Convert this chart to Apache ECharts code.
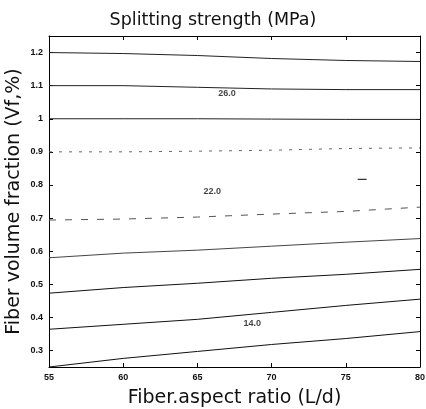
<!DOCTYPE html>
<html>
<head>
<meta charset="utf-8">
<script src="https://cdn.jsdelivr.net/npm/echarts@6/dist/echarts.min.js"></script>
<style>
html,body{margin:0;padding:0;background:#fff;}
#chart{width:426px;height:409px;}
</style>
</head>
<body>
<div id="chart"></div>
<script>
// Fiber aspect ratio (x) sample positions
const aspectRatio = [55, 60, 65, 70, 75, 80];
// Contour lines: fiber volume fraction at each aspect ratio
const contour1 = [0.250, 0.276, 0.297, 0.318, 0.336, 0.357];
const contour2 = [0.364, 0.379, 0.394, 0.415, 0.436, 0.455];
const contour3 = [0.473, 0.490, 0.503, 0.518, 0.530, 0.545];
const contour4 = [0.580, 0.594, 0.603, 0.615, 0.627, 0.638];
const contour5 = [0.694, 0.697, 0.703, 0.712, 0.720, 0.733];
const contour6 = [0.900, 0.900, 0.902, 0.905, 0.910, 0.912];
const contour7 = [1.000, 1.000, 1.000, 0.999, 0.998, 0.998];
const contour8 = [1.100, 1.100, 1.095, 1.090, 1.088, 1.088];
const contour9 = [1.200, 1.197, 1.191, 1.182, 1.176, 1.173];
// small fragment
const fragmentX = [75.8, 76.4];
const fragmentY = [0.817, 0.817];
// Contour labels
const labelX = [67.0, 66.0, 68.7];
const labelY = [1.076, 0.779, 0.382];
const labelText = ['26.0', '22.0', '14.0'];
// Tick labels
const yTicks = [0.3, 0.4, 0.5, 0.6, 0.7, 0.8, 0.9, 1.0, 1.1, 1.2];

const contours = [contour1, contour2, contour3, contour4, contour5, contour6, contour7, contour8, contour9];
const styles = [
  {color:'#111', type:'solid'},
  {color:'#111', type:'solid'},
  {color:'#111', type:'solid'},
  {color:'#444', type:'solid'},
  {color:'#555', type:[7,9]},
  {color:'#666', type:[3,7]},
  {color:'#222', type:'solid'},
  {color:'#222', type:'solid'},
  {color:'#222', type:'solid'}
];

const series = contours.map((c, i) => ({
  type: 'line',
  data: aspectRatio.map((x, j) => [x, c[j]]),
  showSymbol: false,
  smooth: false,
  lineStyle: {width: 1, color: styles[i].color, type: styles[i].type},
  silent: true,
  z: 3
}));
series.push({
  type: 'line',
  data: fragmentX.map((x, j) => [x, fragmentY[j]]),
  showSymbol: false,
  lineStyle: {width: 1.2, color: '#333'},
  silent: true
});
series.push({
  type: 'scatter',
  data: labelX.map((x, j) => ({value: [x, labelY[j]], name: labelText[j]})),
  symbolSize: 0,
  label: {
    show: true,
    position: 'inside',
    formatter: p => p.name,
    fontFamily: 'Liberation Sans, Arial, sans-serif',
    fontSize: 9,
    fontWeight: 'bold',
    color: '#111'
  },
  silent: true,
  z: 5
});

const chart = echarts.init(document.getElementById('chart'), null, {renderer: 'canvas'});
const font = 'Liberation Sans, Arial, sans-serif';
const nameFont = 'DejaVu Sans, sans-serif';
chart.setOption({
  animation: false,
  backgroundColor: '#fff',
  title: {
    text: 'Splitting strength (MPa)',
    left: 'center',
    top: 6,
    textStyle: {fontFamily: nameFont, fontSize: 17.5, fontWeight: 'normal', color: '#111'}
  },
  grid: {left: 49, right: 6, top: 36, bottom: 42, containLabel: false, outerBoundsMode: 'none'},
  xAxis: [{
    type: 'value', min: 55, max: 80, interval: 5,
    name: 'Fiber.aspect ratio (L/d)',
    nameLocation: 'middle', nameGap: 22, nameMoveOverlap: false,
    nameTextStyle: {fontFamily: nameFont, fontSize: 19, color: '#111'},
    axisLine: {show: true, lineStyle: {color: '#000', width: 1}},
    axisTick: {show: true, inside: true, length: 4, lineStyle: {color: '#000'}},
    axisLabel: {fontFamily: font, fontSize: 9, fontWeight: 'bold', color: '#111', margin: 6},
    splitLine: {show: false}
  }, {
    type: 'value', min: 55, max: 80, interval: 5, position: 'top',
    axisLine: {show: true, lineStyle: {color: '#000', width: 1}},
    axisTick: {show: true, inside: true, length: 4, lineStyle: {color: '#000'}},
    axisLabel: {show: false},
    splitLine: {show: false}
  }],
  yAxis: [{
    type: 'value', min: 0.25, max: 1.25,
    name: 'Fiber volume fraction (Vf,%)',
    nameLocation: 'middle', nameGap: 25, nameRotate: 90, nameMoveOverlap: false,
    nameTextStyle: {fontFamily: nameFont, fontSize: 19, color: '#111'},
    axisLine: {show: true, lineStyle: {color: '#000', width: 1}},
    axisTick: {show: true, inside: true, length: 4, customValues: yTicks, lineStyle: {color: '#000'}},
    axisLabel: {fontFamily: font, fontSize: 9, fontWeight: 'bold', color: '#111', margin: 6, customValues: yTicks,
      formatter: v => String(Math.round(v * 10) / 10)},
    splitLine: {show: false}
  }, {
    type: 'value', min: 0.25, max: 1.25, position: 'right',
    axisLine: {show: true, lineStyle: {color: '#000', width: 1}},
    axisTick: {show: true, inside: true, length: 4, customValues: yTicks, lineStyle: {color: '#000'}},
    axisLabel: {show: false},
    splitLine: {show: false}
  }],
  series: series
});
</script>
</body>
</html>
